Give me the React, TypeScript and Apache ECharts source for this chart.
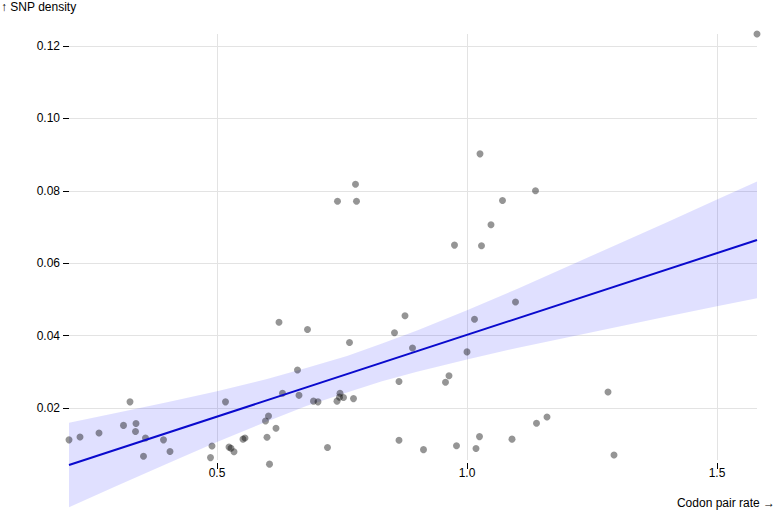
import React, { useEffect, useRef } from "react";
import * as echarts from "echarts";

// Scatter points: codon pair rate (x) vs SNP density (y)
const pointX = [
  0.204, 0.226, 0.264, 0.313, 0.326, 0.338, 0.337, 0.357, 0.353, 0.393, 0.406,
  0.49, 0.487, 0.517, 0.524, 0.528, 0.534, 0.552, 0.556, 0.597, 0.603, 0.618,
  0.6, 0.605, 0.624, 0.631, 0.661, 0.664, 0.681, 0.693, 0.702, 0.721, 0.74,
  0.746, 0.745, 0.753, 0.741, 0.765, 0.773, 0.777, 0.779, 0.855, 0.864, 0.864,
  0.876, 0.891, 0.913, 0.957, 0.964, 0.975, 0.979, 1.0, 1.015, 1.018, 1.025,
  1.026, 1.029, 1.048, 1.071, 1.09, 1.097, 1.137, 1.139, 1.16, 1.282, 1.294, 1.58,
];
const pointY = [
  0.0112, 0.012, 0.0131, 0.0152, 0.0217, 0.0157, 0.0135, 0.0117, 0.0067, 0.0112, 0.008,
  0.0095, 0.0063, 0.0217, 0.0092, 0.0089, 0.0079, 0.0114, 0.0117, 0.0164, 0.0178, 0.0144,
  0.0119, 0.0045, 0.0437, 0.0241, 0.0305, 0.0235, 0.0417, 0.0219, 0.0217, 0.0091, 0.0219,
  0.0241, 0.023, 0.0229, 0.0771, 0.0381, 0.0226, 0.0818, 0.0771, 0.0408, 0.0273, 0.0111,
  0.0455, 0.0366, 0.0085, 0.0271, 0.0289, 0.065, 0.0096, 0.0355, 0.0445, 0.0088, 0.0121,
  0.0902, 0.0648, 0.0706, 0.0773, 0.0114, 0.0493, 0.08, 0.0158, 0.0175, 0.0244, 0.007, 0.1233,
];

// Regression line end points
const lineX = [0.204, 1.58];
const lineY = [0.00425, 0.0664];

// Confidence band
const bandX = [0.204, 0.3, 0.4, 0.5, 0.6, 0.68, 0.76, 0.83, 0.9, 1.0, 1.1, 1.2, 1.3, 1.4, 1.5, 1.58];
const bandLow = [-0.0074, -0.0015, 0.0046, 0.0106, 0.0163, 0.0206, 0.0243, 0.0274, 0.03, 0.0334, 0.0366, 0.0395, 0.0424, 0.0453, 0.0481, 0.0503];
const bandHigh = [0.0159, 0.0187, 0.0216, 0.0246, 0.028, 0.0311, 0.0344, 0.0378, 0.0414, 0.047, 0.0529, 0.059, 0.0652, 0.0713, 0.0776, 0.0826];

const xTicks = [0.5, 1.0, 1.5];
const yTicks = [0.02, 0.04, 0.06, 0.08, 0.1, 0.12];

const FONT = "'Liberation Sans', Arial, Helvetica, sans-serif";
const FS = 12;

export default function App() {
  const ref = useRef<HTMLDivElement>(null);
  useEffect(() => {
    if (!ref.current) return;
    const chart = echarts.init(ref.current, null, { renderer: "svg" });
    const points = pointX.map((x, i) => [x, pointY[i]]);
    const line = lineX.map((x, i) => [x, lineY[i]]);
    chart.setOption({
      animation: false,
      backgroundColor: "#ffffff",
      textStyle: { fontFamily: FONT },
      grid: { left: 69, right: 21, top: 34, bottom: 53, containLabel: false },
      xAxis: {
        type: "value",
        min: 0.204,
        max: 1.58,
        offset: 3,
        axisLine: { show: false },
        axisTick: { show: true, length: 6, customValues: xTicks, lineStyle: { color: "#000", width: 1 } },
        axisLabel: {
          customValues: xTicks,
          formatter: (v: number) => v.toFixed(1),
          color: "#000",
          fontSize: FS,
          fontFamily: FONT,
          margin: 4,
        },
        splitLine: { show: true, lineStyle: { color: "#e3e3e3", width: 1 } },
      },
      yAxis: {
        type: "value",
        min: 0.00564,
        max: 0.12331,
        axisLine: { show: false },
        axisTick: { show: true, length: 6, customValues: yTicks, lineStyle: { color: "#000", width: 1 } },
        axisLabel: {
          customValues: yTicks,
          formatter: (v: number) => v.toFixed(2),
          color: "#000",
          fontSize: FS,
          fontFamily: FONT,
          margin: 9,
        },
        splitLine: { show: true, lineStyle: { color: "#e3e3e3", width: 1 } },
      },
      graphic: [
        {
          type: "text",
          left: 1,
          top: 1,
          style: { text: "↑ SNP density", fontSize: FS, fontFamily: FONT, fill: "#000" },
        },
        {
          type: "text",
          right: 3,
          top: 497,
          style: { text: "Codon pair rate →", fontSize: FS, fontFamily: FONT, fill: "#000" },
        },
      ],
      series: [
        {
          type: "custom",
          clip: false,
          silent: true,
          data: [[bandX[0], bandLow[0]]],
          renderItem: (_params: any, api: any) => {
            const pts: number[][] = [];
            for (let i = 0; i < bandX.length; i++) pts.push(api.coord([bandX[i], bandHigh[i]]));
            for (let i = bandX.length - 1; i >= 0; i--) pts.push(api.coord([bandX[i], bandLow[i]]));
            return {
              type: "polygon",
              shape: { points: pts },
              style: { fill: "rgba(0,0,255,0.12)", stroke: "none" },
            };
          },
          z: 1,
        },
        {
          type: "scatter",
          data: points,
          symbolSize: 7,
          clip: false,
          itemStyle: { color: "rgba(0,0,0,0.52)" },
          z: 2,
        },
        {
          type: "line",
          data: line,
          showSymbol: false,
          symbol: "none",
          clip: false,
          lineStyle: { color: "#0a0acd", width: 2 },
          z: 3,
        },
      ],
    });
    return () => chart.dispose();
  }, []);
  return (
    <div
      ref={ref}
      style={{ position: "fixed", left: 0, top: 0, width: 778, height: 513 }}
    />
  );
}
